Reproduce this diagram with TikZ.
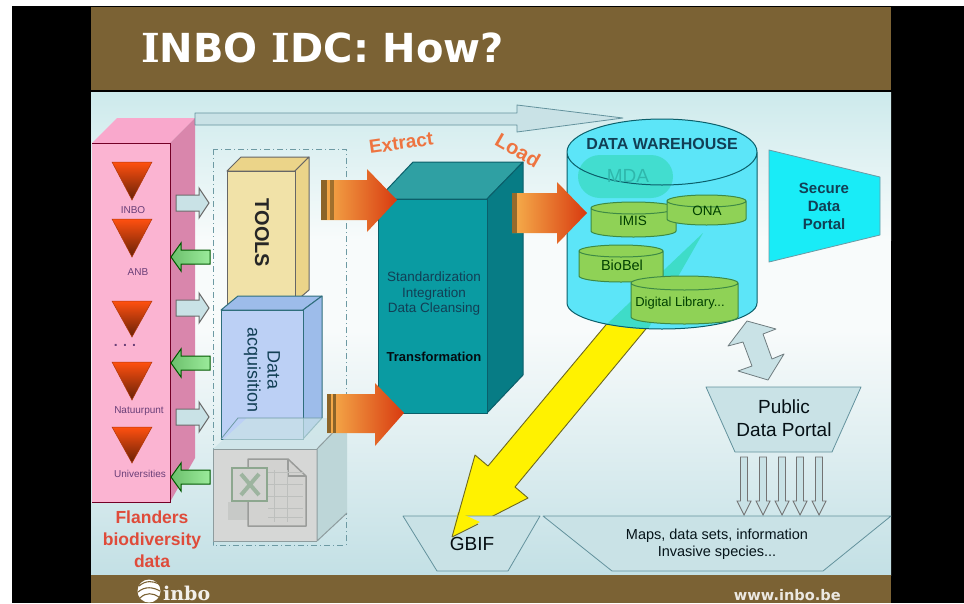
\documentclass[tikz,border=0pt]{standalone}
\usepackage{fontspec}
\setmainfont{Liberation Sans}
\newfontfamily\djv{DejaVu Sans}
\newfontfamily\djs{DejaVu Serif}
\newcommand\fz[1]{\fontsize{#1}{#1}\selectfont}
\definecolor{brownbar}{HTML}{7B6234}
\definecolor{skyedge}{HTML}{2F6E7C}
\definecolor{palefill}{HTML}{C9E2E6}
\definecolor{slidetop}{HTML}{CDEAEC}
\definecolor{slidemid}{HTML}{F8FBFB}
\definecolor{slidebot}{HTML}{C3E0E5}
\definecolor{triorange}{HTML}{FF5010}
\definecolor{inktext}{HTML}{123F55}
\definecolor{tealfront}{HTML}{0A9BA2}
\definecolor{tealtop}{HTML}{2FA0A3}
\definecolor{tealside}{HTML}{077C85}
\definecolor{tealline}{HTML}{0B5F6A}
\definecolor{drumfill}{HTML}{8FD256}
\definecolor{drumline}{HTML}{3E8A45}
\definecolor{wareh}{HTML}{5CE5F8}
\definecolor{mint}{HTML}{3EDCC8}
\definecolor{labelred}{HTML}{DF4B3A}
\definecolor{labelorange}{HTML}{EE7440}
\definecolor{labelpurple}{HTML}{6A3F78}
\definecolor{pinkfront}{HTML}{FBB4D2}
\definecolor{pinktop}{HTML}{F9A8CC}
\definecolor{pinkside}{HTML}{D986AC}
\definecolor{orangeA}{HTML}{F6B04C}
\definecolor{orangeB}{HTML}{EE8A2A}
\definecolor{orangeC}{HTML}{D83A10}
\definecolor{stripe}{HTML}{8C6428}
\definecolor{greenA}{HTML}{6CBF6C}
\definecolor{greenB}{HTML}{9BEB9B}
\definecolor{toolsf}{HTML}{F1E2A8}
\definecolor{toolst}{HTML}{EBD489}
\definecolor{dataf}{HTML}{BCD0F5}
\definecolor{datat}{HTML}{9DBCEA}
\definecolor{portalc}{HTML}{19ECF7}
\definecolor{xlfront}{HTML}{D6D7D6}
\definecolor{xlside}{HTML}{BDD6D8}
\definecolor{xlline}{HTML}{8E9C9E}
\definecolor{iconline}{HTML}{9A9C9A}
\definecolor{iconpage}{HTML}{D2D2D0}
\definecolor{icongrid}{HTML}{BDBFBD}
\definecolor{icongreen}{HTML}{8DA78F}
\definecolor{iconx}{HTML}{9DB49F}
\tikzset{
  pale/.style={fill=palefill,draw=skyedge!75,line width=.8pt,line join=round},
  tinylabel/.style={text=labelpurple,font=\fz{10}},
  tri/.style={top color=triorange,bottom color=triorange!40!black,draw=triorange!70!black,line width=.5pt},
  blockright/.style={fill=palefill,draw=gray!85!black,line width=1pt},
  blockleft/.style={left color=greenA,right color=greenB,draw=green!35!black,line width=1pt},
  orangearrow/.style={left color=orangeA,middle color=orangeB,right color=orangeC,draw=none},
  tealbox/.style={draw=tealline,line width=1pt,line join=round},
  downarrow/.style={fill=palefill,draw=gray!90!black,line width=.9pt},
}
\newcommand\drum[5]{% cx rx ytop ybot ry
  \fill[drumfill] ({#1-#2},{#3+#5}) -- ({#1-#2},{#4-#5}) arc[start angle=180,end angle=360,x radius=#2pt,y radius=#5pt] -- ({#1+#2},{#3+#5}) arc[start angle=0,end angle=180,x radius=#2pt,y radius=#5pt] -- cycle;
  \draw[drumline,line width=1pt] ({#1-#2},{#3+#5}) -- ({#1-#2},{#4-#5}) arc[start angle=180,end angle=360,x radius=#2pt,y radius=#5pt] -- ({#1+#2},{#3+#5}) arc[start angle=0,end angle=180,x radius=#2pt,y radius=#5pt] arc[start angle=180,end angle=360,x radius=#2pt,y radius=#5pt];
}
\newcommand\arrR[1]{\draw[blockright] (176,{#1-8}) -- (199,{#1-8}) -- (199,{#1-15}) -- (209,#1) -- (199,{#1+15}) -- (199,{#1+8}) -- (176,{#1+8}) -- cycle;}
\newcommand\arrL[1]{\draw[blockleft] (210,{#1-7}) -- (181,{#1-7}) -- (181,{#1-14}) -- (171,#1) -- (181,{#1+14}) -- (181,{#1+7}) -- (210,{#1+7}) -- cycle;}
\newcommand\arrD[1]{\draw[downarrow] ({#1-3.5},457) -- ({#1+3.5},457) -- ({#1+3.5},501) -- ({#1+7},501) -- (#1,515) -- ({#1-7},501) -- ({#1-3.5},501) -- cycle;}
\newcommand\invtri[3]{\path[tri] ({#1-20},#2) -- ({#1+20},#2) -- (#1,#3) -- cycle;}
\begin{document}
\begin{tikzpicture}[x=1pt,y=-1pt]
\useasboundingbox (0,0) rectangle (964,603);
\fill[white] (0,0) rectangle (964,603);
\fill[black] (12,6) rectangle (964,603);
% slide
\fill[top color=slidetop,bottom color=slidemid] (91,92) rectangle (891,240);
\fill[slidemid] (91,240) rectangle (891,330);
\fill[top color=slidemid,bottom color=slidebot] (91,330) rectangle (891,575);
\fill[brownbar] (91,7) rectangle (891,90);
\fill[brownbar] (91,575) rectangle (891,603);
\node[anchor=base west,inner sep=0pt,text=white,font=\djv\bfseries\fz{40}] (title) at (141,62) {{\djs I}NBO {\djs I}DC: How?};
% footer
\fill[white] (149,591) circle[radius=11.5];
\draw[brownbar,line width=1.1pt] (139,586) .. controls (146,580) and (153,581) .. (159,584);
\draw[brownbar,line width=1.1pt] (138,592) .. controls (145,586) and (153,587) .. (160,591);
\draw[brownbar,line width=1.1pt] (140,598) .. controls (146,592) and (153,593) .. (159,597);
\node[anchor=west,inner sep=0pt,text=white!90!brownbar,font=\djs\bfseries\fz{19}] (inbotxt) at (163,593) {inbo};
\node[anchor=east,inner sep=0pt,text=white!85!brownbar,font=\djv\bfseries\fz{14.6}] (web) at (841,595) {www.inbo.be};
% pink box
\fill[pinktop] (92,143) -- (170,143) -- (195,118) -- (117,118) -- cycle;
\fill[pinkside] (170,143) -- (195,118) -- (195,458) -- (170,502) -- cycle;
\fill[pinkfront] (92,143) rectangle (170,502);
\draw[purple!60!black,line width=.8pt] (92,143) -- (170,143) -- (170,502) -- (92,502);
% long top arrow
\draw[pale] (195,113) -- (517,113) -- (517,105) -- (623,118) -- (517,132) -- (517,125) -- (195,125) -- cycle;
% triangles
\invtri{132}{162}{200}
\invtri{132}{219}{257}
\invtri{132}{301}{337}
\invtri{132}{362}{400}
\invtri{132}{427}{463}
\node[tinylabel] (l1) at (133,210) {INBO};
\node[tinylabel] (l2) at (138,272) {ANB};
\node[tinylabel,font=\bfseries\fz{14}] (l3) at (125,345) {. . .};
\node[tinylabel] (l4) at (139,411) {Natuurpunt};
\node[tinylabel] (l5) at (140,474) {Universities};
\node[text=labelred,font=\bfseries\fz{17.5},align=center,inner sep=0pt] (flanders) at (152,539) {Flanders\\[5pt]biodiversity\\[4pt]data};
% small arrows
\arrR{203}\arrL{257}\arrR{308}\arrL{363}\arrR{417}\arrL{477}
% dashed frame
\draw[skyedge!70,line width=1pt,dash pattern=on 6pt off 3pt on 1pt off 3pt] (213,149) rectangle (346,545);
% tools box
\draw[black!60,line width=1pt,line join=round,fill=toolst] (227,171) -- (241,157) -- (309,157) -- (295,171) -- cycle;
\draw[black!60,line width=1pt,line join=round,fill=toolst] (295,171) -- (309,157) -- (309,290) -- (295,302) -- cycle;
\draw[black!60,line width=1pt,fill=toolsf] (227,171) rectangle (295,304);
\node[rotate=-90,inner sep=0pt,font=\bfseries\fz{20},text=black!85] (tools) at (262,233) {TOOLS};
% data box
\draw[skyedge,line width=1pt,line join=round,fill=datat] (221,310) -- (238,296) -- (322,296) -- (303,310) -- cycle;
\draw[skyedge,line width=1pt,line join=round,fill=datat] (303,310) -- (322,296) -- (322,418) -- (303,439) -- cycle;
\draw[skyedge,line width=1pt,fill=dataf] (221,310) rectangle (303,439);
\node[rotate=-90,inner sep=0pt,font=\fz{18},text=inktext,align=center] (data) at (262,370) {Data\\[2pt]acquisition};
% excel box
\fill[palefill,opacity=.7] (213,449) -- (247,418) -- (347,418) -- (317,449) -- cycle;
\draw[skyedge!70,line width=.8pt] (221,439) -- (238,418) -- (322,418);
\fill[xlfront] (213,449) rectangle (317,541);
\fill[xlside] (317,449) -- (347,418) -- (347,513) -- (317,541) -- cycle;
\draw[xlline,line width=1pt,line join=round] (347,418) -- (317,449) -- (317,541) -- (347,513);
\draw[xlline,line width=1pt] (317,449) -- (213,449) -- (213,541) -- (317,541);
% excel icon
\fill[icongrid!60!xlfront] (228,502) rectangle (248,520);
\draw[iconline,line width=1.5pt,fill=iconpage,line join=round] (248,459) -- (288,459) -- (306,476) -- (306,526) -- (248,526) -- cycle;
\draw[iconline,line width=1.3pt] (288,459) -- (288,476) -- (306,476);
\foreach \yy in {472,484,496,508,517}{\draw[icongrid,line width=.8pt] (268,\yy) -- (303,\yy);}
\foreach \xx in {274,287}{\draw[icongrid,line width=.8pt] (\xx,470) -- (\xx,522);}
\draw[icongreen,line width=2.5pt,fill=iconpage] (232,468) rectangle (267,501);
\draw[iconx,line width=4pt] (241,474) -- (259,495) (259,474) -- (241,495);
% teal box
\draw[tealbox,fill=tealtop] (378,199) -- (413,162) -- (523,162) -- (487,199) -- cycle;
\draw[tealbox,fill=tealside] (487,199) -- (523,162) -- (523,375) -- (487,413) -- cycle;
\draw[tealbox,fill=tealfront] (378,199) rectangle (487,413);
% orange arrows into the teal box
\path[orangearrow] (321,180) -- (367,180) -- (367,169) -- (397,200) -- (367,232) -- (367,220) -- (321,220) -- cycle;
\fill[stripe] (321,180) rectangle (327,220);
\fill[stripe,opacity=.8] (330,180) rectangle (334,220);
\path[orangearrow] (327,394) -- (375,394) -- (375,383) -- (404,413) -- (375,446) -- (375,433) -- (327,433) -- cycle;
\fill[stripe] (327,394) rectangle (331,433);
\fill[stripe] (333,394) rectangle (336,433);
\node[text=labelorange,font=\bfseries\fz{19},rotate=8,inner sep=0pt] (extract) at (401,143) {Extract};
\node[text=labelorange,font=\bfseries\fz{20},rotate=-30,inner sep=0pt] (load) at (518,150) {Load};
\node[text=inktext,font=\fz{13.5},align=center,inner sep=0pt] (stand) at (434,294) {Standardization\\[2pt]Integration\\[2pt]Data Cleansing};
\node[text=black!80!inktext,font=\bfseries\fz{13},inner sep=0pt] (transf) at (434,357) {Transformation};
% yellow arrow
\draw[fill=yellow,draw=olive!70!black,line width=.9pt,line join=round] (620,308) -- (488,466) -- (475,455) -- (452,537) -- (528,498) -- (515,487) -- (655,318) -- cycle;
% warehouse cylinder
\fill[wareh] (567,152) -- (567,303) arc[start angle=180,end angle=360,x radius=95pt,y radius=26pt] -- (757,152) arc[start angle=0,end angle=180,x radius=95pt,y radius=33pt] -- cycle;
\fill[mint] (607,324) -- (703,233) -- (648,329) .. controls (634,329) and (620,327) .. (607,324) -- cycle;
\fill[mint,opacity=.85] (600,155) -- (651,155) arc[start angle=90,end angle=-90,x radius=22pt,y radius=21.5pt] -- (600,198) arc[start angle=270,end angle=90,x radius=22pt,y radius=21.5pt] -- cycle;
\draw[tealline,line width=1pt] (567,152) -- (567,303) arc[start angle=180,end angle=360,x radius=95pt,y radius=26pt] -- (757,152) arc[start angle=0,end angle=180,x radius=95pt,y radius=33pt] arc[start angle=180,end angle=360,x radius=95pt,y radius=33pt];
\node[text=inktext,font=\bfseries\fz{16},inner sep=0pt] (dwh) at (662,144) {DATA WAREHOUSE};
\node[text=mint!70!tealline,font=\fz{19},inner sep=0pt] (mda) at (628,176) {MDA};
% load arrow
\path[orangearrow] (512,193) -- (557,193) -- (557,182) -- (587,213) -- (557,244) -- (557,233) -- (512,233) -- cycle;
\fill[stripe,opacity=.9] (512,193) rectangle (517,233);
\drum{633.5}{42.5}{202}{237}{6}
\drum{706.5}{39.5}{195}{225}{6}
\drum{621}{42}{245}{282}{6}
\drum{684.5}{53.5}{276}{324}{7}
\node[text=black!75!green,font=\fz{13.5},inner sep=0pt] (imis) at (633,221) {IMIS};
\node[text=black!75!green,font=\fz{13.5},inner sep=0pt] (ona) at (707,211) {ONA};
\node[text=black!75!green,font=\fz{14.5},inner sep=0pt] (biobel) at (622,265) {BioBel};
\node[text=black!75!green,font=\fz{13},inner sep=0pt] (dl) at (680,303) {Digital Library...};
% secure portal
\draw[fill=portalc,draw=skyedge!70,line width=.8pt,line join=round] (769,150) -- (880,177) -- (880,235) -- (769,262) -- cycle;
\node[text=inktext,font=\bfseries\fz{15},align=center,inner sep=0pt] (secure) at (824,206) {Secure\\[3pt]Data\\[3pt]Portal};
% double arrow
\draw[fill=palefill,draw=gray!80!skyedge,line width=.8pt,line join=round] (747,321) -- (776,329) -- (763,334) -- (772,359) -- (784,354) -- (768,380) -- (738,371) -- (752,366) -- (743,342) -- (728,346) -- cycle;
% public portal
\draw[pale] (706,387) -- (861,387) -- (832,452) -- (735,452) -- cycle;
\node[text=black!75!inktext,font=\fz{19},align=center,inner sep=0pt] (public) at (784,418) {Public\\[4pt]Data Portal};
\arrD{744}\arrD{763}\arrD{782}\arrD{800}\arrD{819}
% bottom trapezoids
\draw[pale] (403,516) -- (540,516) -- (508,571) -- (437,571) -- cycle;
\draw[pale] (543,516) -- (891,516) -- (823,571) -- (612,571) -- cycle;
\fill[yellow] (452,537) -- (480,522) -- (458,512) -- cycle;
\draw[olive!70!black,line width=.9pt] (452,537) -- (459,512) (452,537) -- (478,524);
\node[text=black!80!inktext,font=\fz{19},inner sep=0pt] (gbif) at (472,544) {GBIF};
\node[text=black!70!inktext,font=\fz{14.5},align=center,inner sep=0pt] (maps) at (717,544) {Maps, data sets, information\\[3pt]Invasive species...};
\end{tikzpicture}
\end{document}
